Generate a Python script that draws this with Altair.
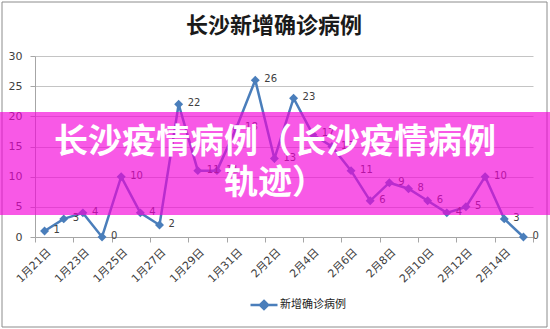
import altair as alt
import pandas as pd

# ---- data ----
dates = [
    "2020-01-21", "2020-01-22", "2020-01-23", "2020-01-24", "2020-01-25",
    "2020-01-26", "2020-01-27", "2020-01-28", "2020-01-29", "2020-01-30",
    "2020-01-31", "2020-02-01", "2020-02-02", "2020-02-03", "2020-02-04",
    "2020-02-05", "2020-02-06", "2020-02-07", "2020-02-08", "2020-02-09",
    "2020-02-10", "2020-02-11", "2020-02-12", "2020-02-13", "2020-02-14",
    "2020-02-15",
]
values = [1, 3, 4, 0, 10, 4, 2, 22, 11, 11, 18, 26, 13, 23, 17, 15,
          11, 6, 9, 8, 6, 4, 5, 10, 3, 0]
series_name = "新增确诊病例"
title_text = "长沙新增确诊病例"
overlay_line1 = "长沙疫情病例（长沙疫情病例"
overlay_line2 = "轨迹）"
y_ticks = [0, 5, 10, 15, 20, 25, 30]

df = pd.DataFrame({"date": dates, "value": values, "series": series_name})

# ---- axis helpers (built from the date list) ----
ts = pd.to_datetime(dates)


def dt(t):
    return alt.DateTime(year=int(t.year), month=int(t.month), date=int(t.day),
                        hours=int(t.hour), utc=True)


half = pd.Timedelta(hours=12)
domain = [dt(ts[0] - half), dt(ts[-1] + half)]
boundary_ticks = [dt(t - half) for t in ts[::2]] + [dt(ts[-1] + half)]
label_ticks = [dt(t) for t in ts[::2]]

FONT = "DejaVu Sans, Noto Sans CJK SC"
BLUE = "#4a7ebb"
GRAY = "#a6a6a6"

xscale = alt.Scale(type="utc", domain=domain)
yscale = alt.Scale(domain=[0, 30], nice=False)

tick_axis = alt.Axis(title=None, orient="bottom", labels=False, grid=False,
                     values=boundary_ticks, tickSize=5, tickColor=GRAY,
                     domainColor=GRAY, domainWidth=1)
label_axis = alt.Axis(title=None, orient="bottom", ticks=False, domain=False, grid=False,
                      values=label_ticks, format="%-m月%-d日", labelAngle=-45,
                      labelFont=FONT, labelFontSize=11, labelColor="#404040",
                      labelPadding=9)
y_axis = alt.Axis(title=None, values=y_ticks, grid=True, gridColor="#c4c4c4",
                  tickSize=5, tickColor=GRAY, domainColor=GRAY, labelPadding=8,
                  labelFont=FONT, labelFontSize=11, labelColor="#404040")

base = alt.Chart(df)
one = alt.Chart(pd.DataFrame({"k": [0]}))

border = one.mark_rect(fill="transparent", stroke="#8c8c8c", strokeWidth=1).encode(
    x=alt.value(-33), x2=alt.value(512), y=alt.value(-54), y2=alt.value(271))

title = one.mark_text(text=title_text, font="Noto Sans CJK SC", fontWeight="bold",
                      fontSize=22, color="#1a1a1a", align="center",
                      baseline="middle").encode(x=alt.value(239), y=alt.value(-30))

legend_symbol = "M-1,0H1M0,-0.3L0.3,0L0,0.3L-0.3,0Z"

line = base.mark_line(strokeWidth=2.5,
                      point=alt.OverlayMarkDef(shape="diamond", size=80, filled=True)).encode(
    x=alt.X("date:T", scale=xscale, axis=tick_axis),
    y=alt.Y("value:Q", scale=yscale, axis=y_axis),
    color=alt.Color("series:N", scale=alt.Scale(range=[BLUE]),
                    legend=alt.Legend(title=None, orient="none", legendX=214, legendY=234,
                                      symbolType=legend_symbol, symbolSize=729,
                                      symbolStrokeWidth=2.5, symbolStrokeColor=BLUE,
                                      symbolFillColor=BLUE, labelOffset=1,
                                      labelFont="Noto Sans CJK SC", labelFontSize=11,
                                      labelColor="#222222")),
)

labels = base.mark_text(align="left", baseline="middle", dx=9, dy=-1,
                        font=FONT, fontSize=10, color="#404040").encode(
    x=alt.X("date:T", scale=xscale, axis=label_axis),
    y=alt.Y("value:Q", scale=yscale, axis=y_axis),
    text="value:Q",
)

band = one.mark_rect(fill="#f500d8", opacity=0.65).encode(
    x=alt.value(-35), x2=alt.value(515), y=alt.value(56), y2=alt.value(159))

txt1 = one.mark_text(text=overlay_line1, font="Noto Sans CJK SC", fontWeight="bold",
                     fontSize=34, color="white", align="center", baseline="middle").encode(
    x=alt.value(240), y=alt.value(87))
txt2 = one.mark_text(text=overlay_line2, font="Noto Sans CJK SC", fontWeight="bold",
                     fontSize=34, color="white", align="center", baseline="middle").encode(
    x=alt.value(240), y=alt.value(128))

chart = alt.layer(border, title, line, labels, band, txt1, txt2).resolve_axis(
    x="independent"
).properties(
    width=498, height=181,
    padding={"left": 35, "top": 56, "right": 17, "bottom": 92},
    autosize=alt.AutoSizeParams(type="none"),
    background="white",
).configure_view(strokeWidth=0)

chart.save("out.html", embed_options={"renderer": "svg", "actions": False})
